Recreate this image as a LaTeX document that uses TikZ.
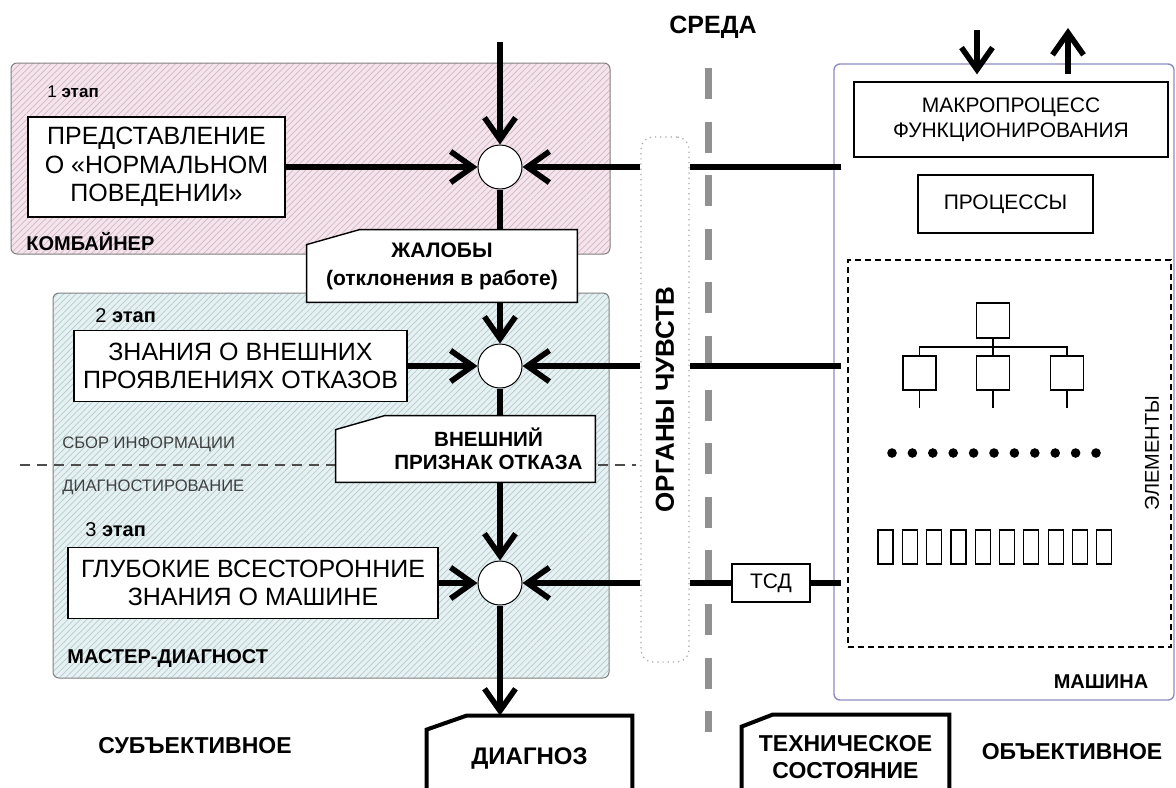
\documentclass[tikz,border=0pt]{standalone}
\usepackage{fontspec}
\setmainfont{Liberation Sans}
\usetikzlibrary{arrows.meta,positioning,patterns.meta}
\definecolor{kombpink}{RGB}{244,229,236}
\definecolor{kombhatch}{RGB}{212,180,196}
\definecolor{mastblue}{RGB}{231,241,242}
\definecolor{masthatch}{RGB}{176,204,210}
\definecolor{machblue}{RGB}{140,140,196}
\definecolor{sredagray}{RGB}{145,145,145}
\pgfdeclarelayer{bg}
\pgfdeclarelayer{frames}
\pgfsetlayers{bg,frames,main}
\tikzset{
  stagearea/.style={draw=gray, rounded corners=3pt, line width=0.5pt},
  knowbox/.style={draw, fill=white, line width=0.9pt, align=center, inner sep=0pt,
    font=\fontsize{12.5}{14.2}\selectfont},
  joint/.style={circle, draw, fill=white, line width=0.5pt, minimum size=22pt, inner sep=0pt},
  feed/.style={line width=2.8pt},
  flow/.style={feed, -{Straight Barb[length=11pt,width=15.5pt]}},
  notebox/.style={inner sep=0pt, align=center, font=\bfseries\fontsize{10.5}{14}\selectfont},
  thinbox/.style={draw, line width=0.6pt, inner sep=0pt, align=center,
    font=\fontsize{10.5}{12.5}\selectfont},
  elbox/.style={draw, line width=0.6pt, minimum width=16.5pt, minimum height=17pt, inner sep=0pt},
  stagelbl/.style={anchor=west, inner sep=0pt, font=\fontsize{10}{12}\selectfont},
  arealbl/.style={anchor=west, inner sep=0pt, font=\bfseries\fontsize{10}{12}\selectfont},
  phaselbl/.style={anchor=west, inner sep=0pt, text=black!75, font=\fontsize{8.3}{10}\selectfont},
  sidelbl/.style={inner sep=0pt, font=\bfseries\fontsize{11.5}{13}\selectfont},
}
\newcommand{\cutframe}[4][0.7pt]{%
  \begin{pgfonlayer}{frames}
    \filldraw[fill=white, line width=#1] ([xshift=#3]#2.north west) -- (#2.north east)
      -- (#2.south east) -- (#2.south west) -- ([yshift=-#4]#2.north west) -- cycle;
  \end{pgfonlayer}}

\begin{document}
\begin{tikzpicture}[x=0.5pt, y=-0.5pt]
  \useasboundingbox (0,0) rectangle (1176,787);

  % areas, drawn behind everything
  \begin{pgfonlayer}{bg}
    \fill[white] (0,0) rectangle (1176,787);
    \node[stagearea, minimum width=299.5pt, minimum height=95.5pt,
          preaction={fill=kombpink},
          pattern={Lines[angle=45,distance=2.2pt,line width=0.35pt]},
          pattern color=kombhatch] (komb) at (310.5,158.5) {};
    \node[stagearea, minimum width=278pt, minimum height=192.5pt,
          preaction={fill=mastblue},
          pattern={Lines[angle=45,distance=2.2pt,line width=0.35pt]},
          pattern color=masthatch] (mast) at (331,485.5) {};
    \coordinate (sepL) at (20,465);
    \coordinate (sepR) at (636,465);
    \draw[black!70, line width=0.6pt, dash pattern=on 5pt off 3.5pt] (sepL) -- (sepR);
    \coordinate (sredatop) at (708,68);
    \coordinate (sredabot) at (708,732);
    \draw[sredagray, line width=3.5pt, dash pattern=on 15.5pt off 11.3pt] (sredatop) -- (sredabot);
  \end{pgfonlayer}

  % area labels
  \node[stagelbl, font=\fontsize{8.5}{10}\selectfont] (st1) at (47,92) {1 \textbf{этап}};
  \node[arealbl] (kombl) at (26,242) {КОМБАЙНЕР};
  \node[stagelbl] (st2) at (95,316) {2 \textbf{этап}};
  \node[stagelbl] (st3) at (85,530) {3 \textbf{этап}};
  \node[arealbl] (mastl) at (67,658) {МАСТЕР-ДИАГНОСТ};
  \node[phaselbl] (sbor) at (62,444) {СБОР ИНФОРМАЦИИ};
  \node[phaselbl] (diagn) at (62,487) {ДИАГНОСТИРОВАНИЕ};

  % knowledge
  \node[knowbox, minimum width=128.5pt, minimum height=50pt] (predst) at (156.5,167)
    {ПРЕДСТАВЛЕНИЕ\\О «НОРМАЛЬНОМ\\ПОВЕДЕНИИ»};
  \node[knowbox, minimum width=166.5pt, minimum height=35.5pt] (znan) at (240.5,366)
    {ЗНАНИЯ О ВНЕШНИХ\\ПРОЯВЛЕНИЯХ ОТКАЗОВ};
  \node[knowbox, minimum width=185pt, minimum height=35.5pt] (glub) at (253,583)
    {ГЛУБОКИЕ ВСЕСТОРОННИЕ\\ЗНАНИЯ О МАШИНЕ};

  \node[joint] (c1) at (500,167) {};
  \node[joint] (c2) at (500,366) {};
  \node[joint] (c3) at (500,583) {};

  % results
  \node[notebox, minimum width=135pt, minimum height=36pt] (zhal) at (442,266)
    {ЖАЛОБЫ\\(отклонения в работе)};
  \cutframe{zhal}{26.5pt}{7.5pt}
  \node[notebox, minimum width=129.5pt, minimum height=33pt] (vnesh) at (465.5,449) {};
  \cutframe{vnesh}{24.5pt}{7pt}
  \node[notebox, font=\bfseries\fontsize{10.3}{11.5}\selectfont] (vneshl)
    at ([xshift=11.5pt]vnesh.center) {ВНЕШНИЙ\\ПРИЗНАК ОТКАЗА};
  \node[notebox, font=\bfseries\fontsize{12}{14}\selectfont,
        minimum width=102.5pt, minimum height=42pt] (diag) at (529.5,758) {ДИАГНОЗ};
  \cutframe[2pt]{diag}{20pt}{7pt}
  \node[notebox, font=\bfseries\fontsize{11.5}{13.5}\selectfont,
        minimum width=103.5pt, minimum height=42.5pt] (tech) at (845.5,757.5)
    {ТЕХНИЧЕСКОЕ\\СОСТОЯНИЕ};
  \cutframe[2pt]{tech}{15.5pt}{6pt}

  % sense organs
  \node[draw=gray!70, dotted, line width=0.6pt, rounded corners=6pt, fill=white,
        minimum width=24pt, minimum height=262.5pt] (organs) at (665,399.5) {};
  \node[rotate=90, inner sep=0pt, font=\bfseries\fontsize{13}{14}\selectfont] (organsl)
    at (organs) {ОРГАНЫ ЧУВСТВ};

  % machine
  \node[draw=machblue, line width=0.7pt, rounded corners=3pt,
        minimum width=170pt, minimum height=318pt] (mach) at (1004,382) {};
  \node[thinbox, minimum width=157pt, minimum height=37.5pt] (macro) at (1011,119.5)
    {МАКРОПРОЦЕСС\\ФУНКЦИОНИРОВАНИЯ};
  \node[thinbox, minimum width=87.5pt, minimum height=29pt] (proc) at (1005.5,204) {ПРОЦЕССЫ};
  \node[draw, dash pattern=on 3pt off 2pt, line width=0.6pt,
        minimum width=161.5pt, minimum height=193.5pt] (elem) at (1009.5,453.5) {};
  \node[rotate=90, inner sep=0pt, font=\fontsize{10}{11}\selectfont] (eleml)
    at (1152,453) {ЭЛЕМЕНТЫ};
  \node[elbox, minimum height=17.5pt] (eltop) at (993,320.5) {};
  \foreach \n/\x in {1/919.5, 2/993, 3/1067} {
    \node[elbox] (el\n) at (\x,373) {};
    \draw[line width=0.6pt] (el\n.south) -- ++(0,17);
  }
  \coordinate (elbus) at (993,347);
  \draw[line width=0.6pt] (el1.north) |- (elbus) -| (el3.north);
  \draw[line width=0.6pt] (eltop) -- (el2);
  \foreach \i in {0,...,10}
    \fill (892+20.4*\i,453) circle (2.4pt);
  \foreach \i in {0,...,9}
    \draw[line width=0.6pt] (878+24.3*\i,530) rectangle ++(15,34);
  \node[font=\bfseries\fontsize{10}{12}\selectfont, inner sep=0pt] (machl) at (1101,682) {МАШИНА};
  \node[thinbox, minimum width=39pt, minimum height=19pt] (tsd) at (771,583) {ТСД};

  % captions
  \node[inner sep=0pt, font=\bfseries\fontsize{12.5}{14}\selectfont] (sreda) at (713,27) {СРЕДА};
  \node[sidelbl] (subj) at (195,746) {СУБЪЕКТИВНОЕ};
  \node[sidelbl] (obj) at (1072,752) {ОБЪЕКТИВНОЕ};

  % flows
  \coordinate (envin) at (500,42);
  \draw[flow] (envin) -- (c1);
  \draw[flow] (predst) -- (c1);
  \draw[feed, shorten <=-4pt] (mach.west |- c1) -- (organs.east |- c1);
  \draw[flow] (organs.west |- c1) -- (c1);
  \draw[feed] (c1) -- (c1 |- zhal.north);
  \draw[flow] (c1 |- zhal.south) -- (c2);
  \draw[flow] (znan) -- (c2);
  \draw[feed, shorten <=-4pt] (mach.west |- c2) -- (organs.east |- c2);
  \draw[flow] (organs.west |- c2) -- (c2);
  \draw[feed] (c2) -- (c2 |- vnesh.north);
  \draw[flow] (c2 |- vnesh.south) -- (c3);
  \draw[flow] (glub) -- (c3);
  \draw[feed, shorten <=-4pt] (mach.west |- c3) -- (tsd);
  \draw[feed] (tsd) -- (organs.east |- c3);
  \draw[flow] (organs.west |- c3) -- (c3);
  \draw[flow] (c3) -- (c3 |- diag.north);

  \coordinate (inA) at (977,30);
  \coordinate (outA) at (1068,28);
  \draw[flow, shorten >=3.5pt] (inA) -- (inA |- macro.north);
  \draw[flow, shorten <=3.5pt] (outA |- macro.north) -- (outA);
\end{tikzpicture}
\end{document}
